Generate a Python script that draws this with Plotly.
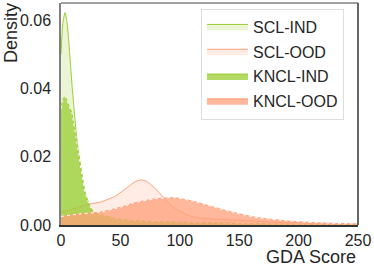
import plotly.graph_objects as go

# ---- data ----
scl_ind_x = [0, 1.5, 3.4, 5, 6.5, 8, 9.5, 11, 12.5, 14.7, 17.5, 20.3, 24.6, 28, 35, 45, 60, 80, 100, 130, 160, 200, 250]
scl_ind_y = [0.050, 0.059, 0.0622, 0.0595, 0.054, 0.047, 0.040, 0.034, 0.028, 0.021, 0.0148, 0.0094, 0.0053, 0.0036, 0.0030, 0.0020, 0.0013, 0.0010, 0.0008, 0.0006, 0.0004, 0.0002, 0.0001]

kncl_ind_x = [0, 1.5, 3.4, 5, 7, 9, 10.5, 12.5, 14.7, 17.5, 20.3, 24.6, 28, 35, 45, 60, 80, 100, 130, 160, 200, 250]
kncl_ind_y = [0.034, 0.0368, 0.0376, 0.0365, 0.0345, 0.033, 0.030, 0.026, 0.021, 0.0148, 0.0094, 0.0053, 0.0036, 0.0030, 0.0020, 0.0013, 0.0010, 0.0008, 0.0006, 0.0004, 0.0002, 0.0001]

scl_ood_x = [0, 10, 17, 25, 33, 46, 55, 62, 67, 72, 79, 86, 92, 98, 105, 112, 125, 143, 170, 200, 250]
scl_ood_y = [0.0037, 0.0047, 0.0055, 0.0062, 0.0067, 0.0085, 0.0108, 0.0126, 0.0132, 0.0128, 0.0108, 0.0082, 0.0060, 0.0044, 0.0032, 0.0023, 0.0018, 0.0015, 0.0010, 0.0006, 0.0002]

kncl_ood_x = [0, 15, 33, 50, 61, 78, 95, 112, 129, 143, 163, 191, 219, 250]
kncl_ood_y = [0.0025, 0.0032, 0.0038, 0.0052, 0.0064, 0.0076, 0.0080, 0.0069, 0.0052, 0.0039, 0.0023, 0.0012, 0.0006, 0.0003]

x_ticks = [0, 50, 100, 150, 200, 250]
y_ticks = [0.00, 0.02, 0.04, 0.06]

GREEN = "154,205,50"
SALMON = "255,160,122"

fig = go.Figure()

def add(name, xs, ys, rgb, alpha, dotted):
    fig.add_trace(go.Scatter(
        x=xs, y=ys, name=name, legendgroup=name, mode="lines", fill="tozeroy",
        fillcolor=f"rgba({rgb},{alpha})",
        line=dict(color=f"rgb({rgb})", width=1, shape="spline", smoothing=0.6),
    ))
    if dotted:
        fig.add_trace(go.Scatter(
            x=xs, y=ys, mode="lines", showlegend=False, hoverinfo="skip", legendgroup=name,
            line=dict(color="white", width=1, dash="dot", shape="spline", smoothing=0.6),
        ))

add("SCL-IND", scl_ind_x, scl_ind_y, GREEN, 0.2, False)
add("SCL-OOD", scl_ood_x, scl_ood_y, SALMON, 0.2, False)
add("KNCL-IND", kncl_ind_x, kncl_ind_y, GREEN, 0.75, True)
add("KNCL-OOD", kncl_ood_x, kncl_ood_y, SALMON, 0.75, True)

font_family = "Liberation Sans, Arial, sans-serif"

fig.update_layout(
    width=374, height=266,
    margin=dict(l=61, r=16, t=3, b=41),
    paper_bgcolor="white", plot_bgcolor="white",
    font=dict(family=font_family, size=16, color="#262626"),
    showlegend=True,
    legend=dict(
        x=0.4714, y=0.975, xanchor="left", yanchor="top",
        bgcolor="rgba(255,255,255,0.8)", bordercolor="#dddddd", borderwidth=1,
        font=dict(size=16, color="#262626"),
        itemwidth=41, traceorder="grouped", tracegroupgap=1,
    ),
    xaxis=dict(
        range=[0, 250], tickvals=x_ticks, ticktext=[str(v) for v in x_ticks],
        showgrid=False, zeroline=False, showline=True, linecolor="#333333", linewidth=1.5,
        ticks="", ticklabelstandoff=0,
    ),
    yaxis=dict(
        range=[0, 0.065], tickvals=y_ticks, ticktext=[f"{v:.2f}" for v in y_ticks],
        showgrid=False, zeroline=False, showline=True, linecolor="#808080", linewidth=1.5,
        ticks="outside", ticklen=5, tickcolor="rgba(0,0,0,0)",
    ),
    shapes=[
        dict(type="line", xref="paper", yref="paper", x0=0, x1=1, y0=1, y1=1,
             line=dict(color="#808080", width=1.5)),
        dict(type="line", xref="paper", yref="paper", x0=1, x1=1, y0=0, y1=1,
             line=dict(color="#333333", width=1.5)),
    ],
    annotations=[
        dict(text="Density", xref="paper", yref="paper", x=(11 - 61) / 297, y=(225 - 33) / 222,
             textangle=-90, showarrow=False, xanchor="center", yanchor="middle",
             font=dict(size=18, color="#262626")),
        dict(text="GDA Score", xref="paper", yref="paper", x=1, y=(225 - 257) / 222,
             showarrow=False, xanchor="right", yanchor="middle",
             font=dict(size=18, color="#262626")),
    ],
)

fig.write_html("out.html", config={"displayModeBar": False},
               post_script="document.body.style.margin='0';document.body.style.overflow='hidden';")
